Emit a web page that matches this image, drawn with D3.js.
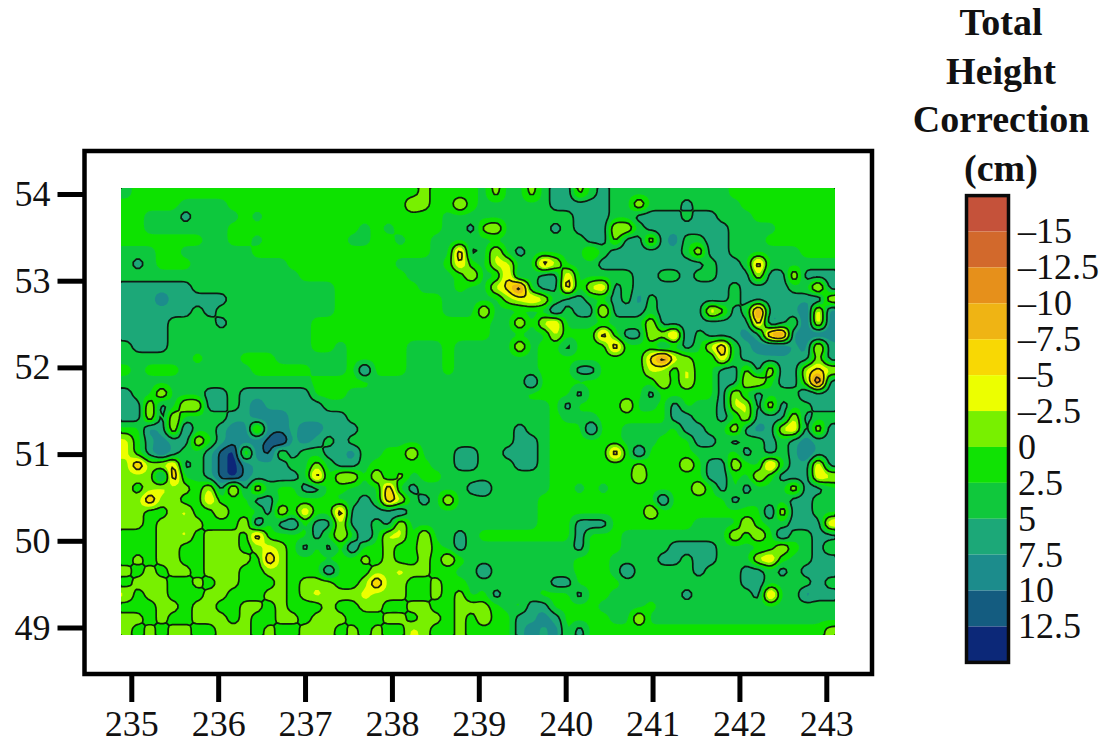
<!DOCTYPE html>
<html>
<head>
<meta charset="utf-8">
<script src="https://cdnjs.cloudflare.com/ajax/libs/d3/7.8.5/d3.min.js"></script>
<style>
html,body{margin:0;padding:0;background:#fff;}
svg{display:block;}
text{font-family:"Liberation Serif","Times New Roman",serif;fill:#111;}
</style>
</head>
<body>
<svg id="chart" width="1112" height="742"></svg>
<script>
// Tick labels
const lonTicks = [235,236,237,238,239,240,241,242,243];
const latTicks = [49,50,51,52,53,54];
const barTicks = [-15,-12.5,-10,-7.5,-5,-2.5,0,2.5,5,7.5,10,12.5];
const barLabels = ["–15","–12.5","–10","–7.5","–5","–2.5","0","2.5","5","7.5","10","12.5"];
const titleLines = ["Total","Height","Correction","(cm)"];

// Colour bands: lower limit of each band (cm) and its colour
const bandFloors = [-17.5,-15,-12.5,-10,-7.5,-5,-2.5,0,2.5,5,7.5,10,12.5];
const bandColors = ["#c5523a","#d2692c","#e6901b","#efb414","#f8d804","#ecff00","#78f000","#10e204","#10c83c","#1ca878","#1c8c8c","#145c80","#0c2878"];
// Levels that carry a black contour line
const lineLevels = [-15,-10,-5,0,5,10];

// Height correction, one letter per grid cell
const levelCodes = {X:-16,R:-14,r:-11,O:-8.5,o:-6,y:-3.5,l:-1.5,a:1.7,g:3.3,T:6.7,S:9,b:11,n:14};
const gridRows = [
"gaaaaaaaaa aaaaaaaaaa aaaaalaaaa glgglgTTlg Tggggggggg gaaaaaaaaa",
"aaaaagggga aaaaaaaaaa aaaaylaaya ggggggTTTT TggygggTgg ggaaaaaaaa",
"aagggTgggg agaaaaaaaa aaaaaaaggg ggggggggTT TggTTTTgTT gggaaaaaaa",
"aaggggggga aaaaaaaaaa gagaaaaggT lyggggTgTT TyygTTTTTT Tggggaaaaa",
"aaaaaaagga agaaaaaaag gaagaagggg gggggggggT TlTTyTSggT Tgggaaaaaa",
"gggaaggggg gaaaaaaaaa aaaaaaggOT gygTgggggl gTTTTTTgyT Tggggggaaa",
"gTgaaagggg ggggaaaaaa aaaggggaoa gyyggOyggg TTTTTTTTTg TTgOgggggg",
"gggggggggg gggggaaaaa aaaaggggay ggoTgTTogg gggTTggTgg TTTyTTyTTT",
"TTTTTTgggg ggggggggaa aaaaagggag gyoRgTTOgy oTgTTTTTTT TgTTTTggoT",
"TTTSTTTTTg ggggggggaa aaaaaaaggg gglyoygTTg gTgSgTTTTT TgTTTTTTSy",
"TTTTTTgTgg ggggggggaa aaaaaaaggg ygggggSgTT oTTTgTTTTo lTgRTTTboS",
"TTTTggggTg ggggggaaaa aaaaaaaaaa aggygyoggg ggggyTTTTT TTTOSTaboS",
"TTTTgggggg ggggggaaaa aaaaaaaaaa agggggyaaa OaTTylOSgT TTSTrRSSbS",
"gTTTgggggg ggggggaaga aaaagggagg gggygaaTaa aOaaaTgTgy OgTSbbTSoT",
"ggggggaggg aaagggggga aaaagggagg gggggaaaaa aaaaoRylag ogTTTTTTlT",
"agaaaggggg gaaaaaggga Saaagggagg gggggaaaTT aaaaylayaa TTlTyTTyoy",
"gggggggggg ggggggaaaa aggggggggg ggggSaaaaa aaaaayayaa TTyyaTTlXT",
"TggygggTTg TTTTTTaaag gggggggggg ggggaaaaTa aaaaTaaaaa TygTgggSTT",
"TTyTgyyTTg TSTTTTTggg gggggggggg ggggggaTaa aayggaTagg TyyTyTggTT",
"TTyTyggggT TSSSTTTTTg gggggggggg ggggggaggg aaaaaaTTgg TgyTTTyTgg",
"aaSTySggTS SySSTSSTTT gggggggggg gggTggaaaS aaggggaTTg gyTSTyoTyT",
"yaTSTTyaTS SSbnTSTgTg gggggggggg gggTTgaaaa aagggaaaTT gTggTgTSTT",
"yaTbTggTbn lSbaTggTTS ggaaygggTT ggTTTgaaaa aOaSaaaagg gaTgTgTbTT",
"lOlyoTgTbn STTTgglgTT gaaaaaggTT gggTTgaaaa aaalaaayaT TyagOaTToT",
"lllSOggTbn STTTTgOgyy gyglgaaggg ggggggaaaa aaayaaaaaT TagyaTTToy",
"lalyllayTo TygaaTTaag ggOgTggggT Sgggggaaga gaaaaaaaya TaTgggyTTg",
"llOllaaoaa aTTaaaaagg TgOygTgygg gggggaaaaa aaaaaSaaaa aTggggTTgg",
"llaalyaaya aaTyaoaaOT TTTSgggggg gggggaaaaa aaaayaaaaa aaaaSyTTgg",
"llallllaaa ySaTSaTTyT TgTygggggg gggggaaaTT Taaaaaaagg ggyaggTTTo",
"aaallyalll aOaaaaTaya SgyygyggTg aaaaaaaaTa aagggggggg gyayaSggTT",
"aaallaalll alylaTaTaS aalaayagTg ggggggggTa aaggggTTTT ggggayagTa",
"alallaalll laOlaaaaaa lalaalayag ggggggggaa aggggTTgTT gggyoaggTT",
"lalallalll aallaaaSaa allyllaagg Sgggggggaa agSgggggTg ggTTgTgTTT",
"alllaalall aaalalllaa lOllaalaag ggggggTTaa aagggggggg ggTTggggTg",
"yallaaalla aallalylll ylllaalalg aTgggaaaTa aggggggTgg gggTOggSTT",
"aaallallaa llalaaalaa llaallaall lagaTTaaaa ggggaggggg gggggggggg",
"llalaallla laallallla aallallala yaaTTSTaaa aggygggggg gggggggggg",
"lalallaall lalaalllal alaaylaala aaaTSTSaTa aaaaaaaaaa aaaaaaaaal"
];

const cols = 60, rows = gridRows.length;
const cells = gridRows.map(r => Array.from(r.replace(/ /g,"")).map(c => levelCodes[c]));

// Each read cell becomes a block of finer cells, softened so that the contours round off
const fine = 4;
const fineW = cols*fine, fineH = rows*fine;
const values = new Float64Array(fineW*fineH);
for (let j=0;j<fineH;j++) for (let i=0;i<fineW;i++)
  values[j*fineW+i] = cells[Math.floor(j/fine)][Math.floor(i/fine)];
d3.blur2({data:values,width:fineW,height:fineH},1);

const svg = d3.select("#chart");
const x = d3.scaleLinear().domain([235,243]).range([131.3,826.3]);
const y = d3.scaleLinear().domain([49,54]).range([627.5,194]);
const barY = d3.scaleLinear().domain([-15,12.5]).range([231.5,626.5]);

// geographic extent of the grid
const lonExtent = [x.invert(120), x.invert(836)];
const latExtent = [y.invert(187), y.invert(636)];
const gridX = d3.scaleLinear().domain([0,fineW]).range(lonExtent);
const gridY = d3.scaleLinear().domain([0,fineH]).range(latExtent);
const path = d3.geoPath(d3.geoTransform({
  point(px,py){ this.stream.point(x(gridX(px)), y(gridY(py))); }
}));

const defs = svg.append("defs");
defs.append("clipPath").attr("id","mapClip").append("rect")
  .attr("x",121).attr("y",188).attr("width",714).attr("height",447);
defs.append("filter").attr("id","soft").attr("x","-2%").attr("y","-2%").attr("width","104%").attr("height","104%")
  .append("feGaussianBlur").attr("stdDeviation",0.6);

const map = svg.append("g").attr("filter","url(#soft)").append("g").attr("clip-path","url(#mapClip)");
const contourGen = d3.contours().size([fineW,fineH]);

map.selectAll("path.band").data(bandFloors).join("path")
  .attr("class","band")
  .attr("fill",(d,i)=>bandColors[i])
  .attr("d",d=>path(contourGen.contour(values,d)));

map.selectAll("path.line").data(lineLevels).join("path")
  .attr("class","line")
  .attr("fill","none").attr("stroke","#0a0a0a").attr("stroke-width",1.7).attr("stroke-opacity",0.9)
  .attr("d",d=>path(contourGen.contour(values,d)));

// frame
svg.append("rect").attr("x",84.5).attr("y",151).attr("width",787.5).attr("height",523)
  .attr("fill","none").attr("stroke","#000").attr("stroke-width",4.5);

// axes
const xAxis = svg.append("g").attr("transform","translate(0,674)")
  .call(d3.axisBottom(x).tickValues(lonTicks).tickSize(28).tickPadding(8).tickFormat(d3.format("d")));
const yAxis = svg.append("g").attr("transform","translate(84.5,0)")
  .call(d3.axisLeft(y).tickValues(latTicks).tickSize(27).tickPadding(7).tickFormat(d3.format("d")));
[xAxis,yAxis].forEach(a=>{
  a.select(".domain").remove();
  a.selectAll("line").attr("stroke","#000").attr("stroke-width",5);
  a.selectAll("text").attr("font-size",36).attr("fill","#111")
    .style("font-family",'"Liberation Serif",serif');
});

// colour bar
const barX = 967, barW = 41;
const barEdges = [-17.5].concat(barTicks,[15]);
svg.append("g").selectAll("rect").data(bandColors).join("rect")
  .attr("x",barX).attr("width",barW)
  .attr("y",(d,i)=>barY(barEdges[i]))
  .attr("height",(d,i)=>barY(barEdges[i+1])-barY(barEdges[i]))
  .attr("fill",d=>d);
svg.append("rect").attr("x",barX-0.5).attr("y",barY(-17.5)).attr("width",barW+1)
  .attr("height",barY(15)-barY(-17.5)).attr("fill","none").attr("stroke","#0a0a0a").attr("stroke-width",3.5);

svg.append("g").selectAll("text").data(barTicks).join("text")
  .attr("x",1018).attr("y",d=>barY(d)).attr("dy","0.33em")
  .attr("font-size",36)
  .text((d,i)=>barLabels[i]);

const titleBase = [35,84,132,181];
svg.append("g").selectAll("text").data(titleLines).join("text")
  .attr("x",1001).attr("y",(d,i)=>titleBase[i])
  .attr("text-anchor","middle").attr("font-size",38).attr("font-weight","bold")
  .text(d=>d);
</script>
</body>
</html>
